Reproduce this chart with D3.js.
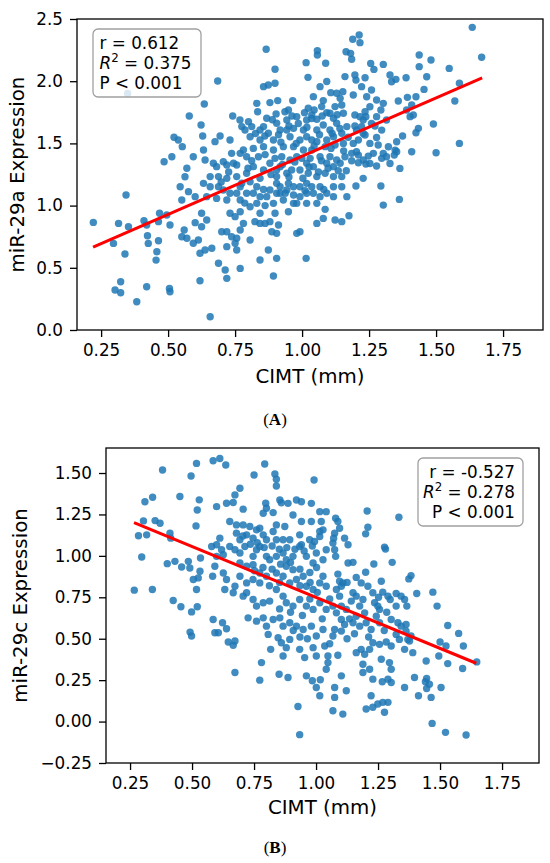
<!DOCTYPE html>
<html>
<head>
<meta charset="utf-8">
<script src="https://cdn.jsdelivr.net/npm/d3@7"></script>
<style>
  body { margin: 0; background: #fff; }
  svg text { font-family: "DejaVu Sans", sans-serif; fill: #000; }
</style>
</head>
<body>
<svg id="chart" width="550" height="863"></svg>
<script>
// DATA ---------------------------------------------------------------

const xTicks = [0.25, 0.50, 0.75, 1.00, 1.25, 1.50, 1.75];
const yTicksA = [0.0, 0.5, 1.0, 1.5, 2.0, 2.5];
const yTicksB = [-0.25, 0.00, 0.25, 0.50, 0.75, 1.00, 1.25, 1.50];

// panel A: CIMT (mm) vs miR-29a expression
const pointsA = [
  [0.866,2.257],[1.057,2.246],[1.057,2.211],[1.015,2.149],[1.088,2.144],[0.899,2.096],[0.685,2.002],
  [0.856,1.956],[0.874,1.970],[0.899,1.983],[1.022,2.031],[1.092,1.997],[1.067,1.956],[1.107,1.908],
  [1.129,1.903],[1.152,1.916],[1.160,2.037],[0.635,1.817],[0.831,1.822],[0.880,1.828],[0.909,1.844],
  [0.965,1.844],[1.042,1.876],[1.079,1.844],[1.142,1.862],[0.579,1.720],[0.741,1.720],[0.768,1.688],
  [0.800,1.675],[0.834,1.755],[0.868,1.702],[0.903,1.737],[0.936,1.755],[0.949,1.769],[0.980,1.715],
  [1.009,1.747],[1.017,1.688],[1.045,1.769],[1.055,1.694],[1.092,1.747],[1.117,1.702],[1.154,1.742],
  [0.623,1.648],[0.629,1.559],[0.522,1.549],[0.538,1.527],[0.553,1.474],[0.694,1.559],[0.675,1.514],
  [0.731,1.527],[0.775,1.635],[0.787,1.608],[0.806,1.554],[0.843,1.608],[0.874,1.581],[0.843,1.527],
  [0.893,1.527],[0.918,1.608],[0.955,1.554],[0.930,1.474],[0.968,1.621],[1.005,1.608],[0.992,1.527],
  [1.036,1.527],[1.055,1.608],[1.079,1.648],[1.104,1.608],[1.129,1.662],[1.092,1.527],[1.117,1.554],
  [1.148,1.581],[1.167,1.635],[0.485,1.353],[0.514,1.393],[0.594,1.393],[0.632,1.447],[0.638,1.367],
  [0.570,1.300],[0.563,1.232],[0.545,1.152],[0.576,1.112],[0.551,1.045],
  [0.669,1.340],[0.681,1.313],[0.719,1.326],[0.744,1.340],[0.769,1.420],[0.793,1.393],[0.756,1.233],
  [0.793,1.260],[0.818,1.313],[0.837,1.393],[0.856,1.286],[0.880,1.340],[0.893,1.447],[0.905,1.233],
  [0.943,1.260],[0.918,1.313],[0.955,1.367],[0.980,1.393],[0.992,1.286],[1.017,1.340],[1.042,1.313],
  [1.067,1.393],[1.092,1.340],[1.117,1.313],[1.142,1.340],[1.160,1.393],
  [0.632,1.179],[0.657,1.152],[0.688,1.152],[0.706,1.125],[0.731,1.099],[0.644,1.072],[0.681,1.058],
  [0.719,1.045],[0.769,1.152],[0.793,1.099],[0.831,1.152],[0.843,1.072],[0.880,1.125],[0.905,1.179],
  [0.918,1.099],[0.943,1.125],[0.968,1.152],[0.992,1.072],[1.017,1.179],[1.042,1.099],[1.067,1.152],
  [1.092,1.099],[1.117,1.152],[1.148,1.152],[1.167,1.072],[0.893,1.018],[0.930,1.045],[0.968,1.018],
  [0.625,0.938],[0.644,0.884],[0.731,0.938],[0.750,0.911],[0.769,0.951],[0.806,0.991],[0.831,1.018],
  [0.843,0.938],[0.899,0.938],[0.949,0.951],[0.980,1.018],[1.017,1.018],[1.055,1.018],[1.079,0.897],
  [1.123,0.884],[1.148,0.871],[1.055,0.857],
  [0.495,0.924],[0.507,0.844],[0.601,0.863],[0.625,0.830],[0.560,0.804],[0.570,0.737],[0.551,0.750],
  [0.594,0.697],[0.613,0.723],
  [0.700,0.790],[0.719,0.790],[0.737,0.750],[0.756,0.737],[0.769,0.804],[0.781,0.857],[0.806,0.723],
  [0.824,0.871],[0.843,0.857],[0.862,0.857],[0.880,0.871],[0.887,0.790],[0.905,0.777],[0.912,0.844],
  [0.980,0.777],[0.992,0.790],
  [0.619,0.617],[0.638,0.643],[0.663,0.657],[0.719,0.670],[0.750,0.697],[0.756,0.643],[0.874,0.643],
  [0.843,0.563],[0.905,0.576],[1.015,0.576],[0.688,0.536],[0.713,0.482],[0.719,0.415],[0.769,0.495],
  [0.893,0.434],[0.619,0.396],[0.505,0.334],[0.507,0.308],[0.657,0.107],
  [0.812,1.635],[0.856,1.635],[0.905,1.662],[0.943,1.688],[1.023,1.782],[1.036,1.728],[1.073,1.796],
  [1.123,1.796],[1.148,1.809],[1.104,1.742],[0.943,1.608],[1.017,1.554],[1.055,1.514],[1.086,1.474],
  [1.123,1.487],[1.154,1.500],[1.036,1.447],[1.005,1.447],[0.968,1.474],[0.856,1.474],[0.818,1.460],
  [0.781,1.447],[0.737,1.420],[0.706,1.353],[0.756,1.326],[0.899,1.380],[0.924,1.393],[0.999,1.380],
  [1.030,1.380],[1.104,1.393],[1.129,1.367],[0.905,1.286],[0.961,1.286],[1.023,1.260],[1.055,1.233],
  [1.086,1.260],[1.117,1.233],[1.148,1.233],[0.843,1.219],[0.806,1.192],[0.719,1.219],[0.688,1.233],
  [0.657,1.233],[0.918,1.152],[0.949,1.179],[0.992,1.152],[1.036,1.152],[0.905,1.099],[0.968,1.085],
  [1.067,1.072],[1.117,1.072],[0.868,1.072],[0.818,1.099],[0.756,1.099],[0.601,1.072],[0.769,1.045],
  [1.017,1.099],
  [0.221,0.865],[0.315,0.857],[0.352,0.830],[0.296,0.696],[0.339,0.611],[0.410,0.879],[0.420,0.844],
  [0.423,0.758],[0.426,0.696],[0.464,0.718],[0.458,0.629],[0.455,0.562],[0.468,0.938],[0.464,0.871],
  [0.323,0.388],[0.302,0.321],[0.323,0.300],[0.383,0.227],[0.420,0.348],[0.349,1.902],[0.343,1.085],
  [1.635,2.433],[1.670,2.192],[1.189,2.337],[1.213,2.371],[1.216,2.310],[1.181,2.224],[1.185,2.176],
  [1.164,2.237],[1.256,2.143],[1.268,2.095],[1.303,2.135],[1.437,2.211],[1.481,2.170],[1.437,2.117],
  [1.549,2.103],[1.465,2.036],[1.197,2.050],[1.201,2.009],[1.235,2.028],[1.328,2.050],[1.334,1.996],
  [1.350,2.015],[1.388,2.028],[1.259,1.929],[1.587,1.983],[1.455,1.934],[1.359,1.841],[1.393,1.870],
  [1.425,1.875],[1.570,1.841],[1.191,1.889],[1.294,1.768],[1.390,1.768],[1.409,1.809],[1.403,1.715],
  [1.415,1.728],[1.197,1.728],[1.216,1.715],[1.235,1.755],[1.238,1.715],[1.228,1.688],[1.490,1.656],
  [1.434,1.621],[1.425,1.586],[1.297,1.607],[1.272,1.640],[1.197,1.640],[1.203,1.607],[1.228,1.580],
  [1.235,1.567],[1.278,1.548],[1.375,1.559],[1.353,1.513],[1.587,1.500],[1.347,1.446],[1.353,1.433],
  [1.344,1.406],[1.409,1.433],[1.500,1.425],[1.303,1.420],[1.315,1.393],[1.297,1.380],[1.278,1.318],
  [1.365,1.299],[1.185,1.420],[1.210,1.406],[1.210,1.344],[1.238,1.334],[1.247,1.398],[1.228,1.219],
  [1.201,1.157],[1.294,1.157],[1.363,1.050],[1.303,1.004],[1.191,1.500],[1.203,1.433],[1.253,1.339],
  [1.175,0.919],[1.086,0.970],
  [1.222,1.956],[1.241,1.875],[1.278,1.849],[1.303,1.822],[1.253,1.795],[1.278,1.715],[1.315,1.688],
  [1.259,1.661],[1.222,1.634],[1.253,1.500],[1.284,1.487],[1.322,1.473],[1.210,1.527],[1.228,1.366],
  [1.266,1.420],[1.328,1.339],
  [0.812,1.360],[0.862,1.410],[0.884,1.250],[0.927,1.330],[0.951,1.230],[0.973,1.350],[1.003,1.220],
  [1.026,1.310],[1.061,1.270],[1.072,1.360],[1.097,1.300],[1.135,1.280],[0.826,1.580],[0.861,1.560],
  [0.912,1.570],[0.951,1.640],[0.986,1.660],[1.018,1.630],[1.065,1.570],[1.112,1.580],[1.141,1.620],
  [0.889,1.690],[0.962,1.720],[1.036,1.700],[1.075,1.720],[1.131,1.730],[0.921,1.510],[0.978,1.500],
  [1.045,1.480],[1.108,1.460],[0.798,1.300],[0.775,1.180],[0.856,1.130],[0.937,1.100],[1.011,1.120],
  [1.081,1.130],[0.726,1.270],[0.698,1.190],[0.862,1.000],[0.786,1.020],[1.155,1.440],[1.172,1.550],
  [1.165,1.280],[1.185,1.360]
];
const fitA = [[0.220, 0.667], [1.672, 2.026]];
const statsA = ["r = 0.612", "0.375", "P < 0.001"];

// panel B: CIMT (mm) vs miR-29c expression
const pointsB = [
  [0.381,1.518],[0.496,1.482],[0.518,1.558],[0.585,1.574],[0.612,1.588],[0.636,1.548],[0.793,1.554],
  [0.750,1.488],[0.834,1.494],[0.840,1.462],[0.840,1.422],[0.992,1.458],[0.310,1.327],[0.341,1.354],
  [0.451,1.358],[0.529,1.338],[0.521,1.277],[0.599,1.297],[0.639,1.318],[0.666,1.322],[0.706,1.282],
  [0.673,1.368],[0.693,1.408],[0.797,1.318],[0.800,1.287],[0.787,1.257],[0.827,1.261],[0.854,1.337],
  [0.860,1.321],[0.887,1.317],[0.921,1.337],[0.941,1.327],[0.981,1.317],[1.015,1.267],[0.304,1.211],
  [0.351,1.213],[0.371,1.197],[0.284,1.121],[0.317,1.127],[0.411,1.137],[0.414,1.107],[0.516,1.181],
  [0.297,0.993],[0.267,0.793],[0.340,0.797],[0.400,0.953],[0.431,0.967],[0.458,0.933],[0.491,0.927],
  [0.485,0.967],[0.505,0.857],[0.525,0.867],[0.532,0.907],[0.518,0.797],[0.424,0.731],[0.455,0.693],
  [0.498,0.662],[0.521,0.693],[0.492,0.540],[0.498,0.516],[0.585,0.616],[0.592,0.536],[0.606,0.536],
  [0.623,0.596],[0.639,0.560],[0.646,0.480],[0.673,0.486],[0.666,0.460],[0.583,0.877],[0.592,0.937],
  [0.599,0.997],[0.534,0.987],[0.579,1.057],[0.599,1.067],[0.619,1.037],[0.626,1.007],[0.612,1.107],
  [0.652,1.207],[0.679,1.187],[0.706,1.187],[0.733,1.177],[0.760,1.157],[0.773,1.167],[0.679,1.137],
  [0.693,1.097],[0.720,1.127],[0.746,1.107],[0.787,1.127],[0.800,1.097],[0.827,1.147],[0.840,1.097],
  [0.867,1.097],[0.894,1.097],[0.934,1.127],[0.941,1.067],[0.974,1.097],[0.994,1.087],[1.015,1.147],
  [1.028,1.157],[1.015,1.117],[1.041,1.037],[1.028,0.977],[0.652,1.057],[0.673,1.037],[0.693,1.017],
  [0.713,1.057],[0.746,0.997],[0.760,1.037],[0.773,1.057],[0.800,0.997],[0.813,0.977],[0.840,0.997],
  [0.867,1.017],[0.880,0.977],[0.907,0.997],[0.934,1.057],[0.961,0.997],[0.988,0.957],[1.001,1.017],
  [0.693,0.957],[0.720,0.937],[0.746,0.947],[0.773,0.897],[0.800,0.877],[0.693,0.877],[0.720,0.837],
  [0.746,0.857],[0.773,0.837],[0.626,0.897],[0.639,0.857],[0.632,0.797],[0.666,0.777],[0.673,0.817],
  [0.706,0.757],[0.720,0.777],[0.746,0.737],[0.760,0.697],[0.787,0.717],[0.813,0.727],[0.840,0.897],
  [0.867,0.877],[0.880,0.937],[0.907,0.917],[0.894,0.837],[0.921,0.857],[0.948,0.877],[0.961,0.817],
  [0.988,0.797],[1.015,0.837],[1.028,0.877],[1.041,0.817],[0.840,0.797],[0.867,0.757],[0.880,0.717],
  [0.907,0.697],[0.934,0.737],[0.961,0.697],[0.988,0.677],[1.015,0.717],[1.041,0.677],[0.726,0.626],
  [0.760,0.606],[0.787,0.626],[0.800,0.576],[0.807,0.526],[0.827,0.616],[0.854,0.626],[0.867,0.576],
  [0.894,0.596],[0.921,0.576],[0.948,0.556],[0.981,0.576],[1.001,0.516],[1.028,0.556],[0.847,0.506],
  [0.860,0.476],[0.894,0.496],[0.880,0.446],[0.934,0.436],[0.954,0.386],[0.988,0.446],[1.001,0.396],
  [1.035,0.456],[1.048,0.396],[0.817,0.436],[0.780,0.356],[0.867,0.396],[0.673,0.296],[0.773,0.250],
  [0.851,0.286],[0.887,0.266],[0.961,0.276],[0.985,0.246],[1.001,0.206],[1.015,0.156],[1.017,0.252],
  [1.041,0.316],[1.048,0.356],[0.927,0.091],[0.934,-0.079],[0.981,1.207],[1.021,1.207],[1.041,1.267],
  [0.907,1.247],[0.941,1.207],[0.874,1.177],[0.840,1.187],
  [1.206,1.271],[1.334,1.233],[1.209,1.173],[1.200,1.133],[1.079,1.227],[1.088,1.207],[1.075,1.137],
  [1.071,1.107],[1.068,1.077],[1.075,1.037],[1.079,0.997],[1.115,1.107],[1.129,1.067],[1.276,1.053],
  [1.280,1.041],[1.307,0.961],[1.129,0.957],[1.149,0.961],[1.233,0.951],[1.200,0.901],[1.383,0.881],
  [1.374,0.861],[1.263,0.847],[1.182,0.837],[1.209,0.817],[1.095,0.847],[1.108,0.837],[1.102,0.817],
  [1.082,0.797],[1.406,0.773],[1.471,0.781],[1.488,0.697],[1.269,0.781],[1.290,0.757],[1.323,0.773],
  [1.343,0.757],[1.357,0.737],[1.366,0.697],[1.323,0.697],[1.299,0.737],[1.229,0.777],[1.236,0.717],
  [1.249,0.697],[1.256,0.677],[1.149,0.777],[1.162,0.757],[1.142,0.727],[1.189,0.737],[1.176,0.697],
  [1.196,0.656],[1.095,0.757],[1.102,0.697],[1.122,0.677],[1.068,0.697],[1.082,0.656],[1.162,0.636],
  [1.149,0.596],[1.176,0.576],[1.202,0.596],[1.222,0.556],[1.243,0.636],[1.256,0.596],[1.102,0.616],
  [1.115,0.586],[1.075,0.556],[1.102,0.546],[1.068,0.516],[1.303,0.616],[1.330,0.596],[1.343,0.576],
  [1.363,0.586],[1.363,0.546],[1.370,0.496],[1.377,0.486],[1.383,0.516],[1.323,0.526],[1.336,0.496],
  [1.531,0.580],[1.575,0.532],[1.500,0.480],[1.524,0.456],[1.594,0.456],[1.648,0.360],[1.531,0.350],
  [1.591,0.320],[1.495,0.396],[1.444,0.366],[1.397,0.266],[1.446,0.260],[1.441,0.240],[1.446,0.200],
  [1.457,0.226],[1.504,0.206],[1.413,0.156],[1.464,0.146],[1.468,-0.011],[1.522,-0.065],[1.605,-0.081],
  [1.283,0.480],[1.303,0.456],[1.256,0.466],[1.229,0.476],[1.216,0.436],[1.182,0.436],[1.196,0.406],
  [1.162,0.416],[1.263,0.376],[1.296,0.356],[1.303,0.316],[1.290,0.256],[1.303,0.236],[1.267,0.240],
  [1.229,0.256],[1.189,0.346],[1.189,0.296],[1.216,0.316],[1.102,0.276],[1.075,0.206],[1.075,0.146],
  [1.122,0.186],[1.222,0.156],[1.202,0.076],[1.229,0.086],[1.249,0.106],[1.269,0.116],[1.290,0.116],
  [1.276,0.056],[1.068,0.065],[1.108,0.045],[1.357,0.206],[1.357,0.436],[1.390,0.416],[1.095,1.167],
  [0.705,1.120],[0.735,1.070],[0.763,1.080],[0.791,1.050],[0.823,1.060],[0.852,1.040],[0.882,1.050],
  [0.915,1.040],[0.952,1.030],[0.985,1.060],[0.752,0.910],[0.786,0.930],[0.823,0.920],[0.857,0.950],
  [0.897,0.960],[0.935,0.920],[0.975,0.900],[1.002,0.930],[0.812,0.820],[0.853,0.840],[0.935,0.820],
  [0.976,0.840],[1.005,0.780],[0.853,0.680],[0.897,0.660],[0.945,0.640],[0.975,0.740],[1.025,0.620],
  [1.055,0.740],[1.088,0.890],[1.125,0.840],[1.162,0.870],[1.135,0.620],[1.055,0.470],[1.125,0.500],
  [1.155,0.530],[1.212,0.510],[1.275,0.550],[1.252,0.750],[1.285,0.660],[0.935,0.510],[0.908,0.550],
  [0.965,0.500],[1.088,0.400]
];
const fitB = [[0.266, 1.200], [1.646, 0.352]];
const statsB = ["r = -0.527", "0.278", "P < 0.001"];

// CHART INIT ---------------------------------------------------------

const svg = d3.select('#chart');
const tickFont = 16.8;   // tick labels and stats box
const titleFont = 19.8;  // axis titles

const panels = [
  {
    points: pointsA, fit: fitA, stats: statsA, yTicks: yTicksA, yFormat: d3.format('.1f'),
    ylabel: 'miR-29a Expression', tag: 'A',
    frame: {left: 77, right: 543, top: 19, bottom: 330},
    xDomain: [0.160, 1.899], yDomain: [0.0, 2.5],
    ylabelX: 23.5, xlabelY: 382.5, tagY: 425,
    legend: {x: 93, y: 29, w: 108, h: 68, textX: 99.5, anchor: 'start', baseY: 48.5}
  },
  {
    points: pointsB, fit: fitB, stats: statsB, yTicks: yTicksB, yFormat: d3.format('.2f'),
    ylabel: 'miR-29c Expression', tag: 'B',
    frame: {left: 106, right: 539, top: 448, bottom: 763},
    xDomain: [0.153, 1.899], yDomain: [-0.25, 1.651],
    ylabelX: 26.5, xlabelY: 813.5, tagY: 853,
    legend: {x: 418, y: 458, w: 105, h: 68, textX: 515, anchor: 'end', baseY: 477.5}
  }
];

function drawPanel(p) {
  const f = p.frame;
  const xScale = d3.scaleLinear().domain(p.xDomain).range([f.left, f.right]);
  const yScale = d3.scaleLinear().domain(p.yDomain).range([f.bottom, f.top]);

  const g = svg.append('g');

  // clip dots to axes
  const clipId = 'clip-' + p.tag;
  g.append('clipPath').attr('id', clipId)
    .append('rect')
    .attr('x', f.left).attr('y', f.top)
    .attr('width', f.right - f.left).attr('height', f.bottom - f.top);

  // scatter
  g.append('g')
    .attr('clip-path', 'url(#' + clipId + ')')
    .selectAll('circle')
    .data(p.points)
    .enter()
    .append('circle')
    .attr('cx', d => xScale(d[0]))
    .attr('cy', d => yScale(d[1]))
    .attr('r', 3.7)
    .attr('fill', '#1f77b4')
    .attr('fill-opacity', 0.85);

  // regression line
  g.append('path')
    .datum(p.fit)
    .attr('d', d3.line().x(d => xScale(d[0])).y(d => yScale(d[1])))
    .attr('fill', 'none')
    .attr('stroke', 'red')
    .attr('stroke-width', 3);

  // axes
  const xAxis = d3.axisBottom(xScale).tickValues(xTicks).tickFormat(d3.format('.2f'))
    .tickSize(7).tickPadding(7);
  const yAxis = d3.axisLeft(yScale).tickValues(p.yTicks).tickFormat(p.yFormat)
    .tickSize(7).tickPadding(7);

  const gx = g.append('g')
    .attr('transform', 'translate(0,' + f.bottom + ')')
    .call(xAxis);
  const gy = g.append('g')
    .attr('transform', 'translate(' + f.left + ',0)')
    .call(yAxis);

  [gx, gy].forEach(a => {
    a.select('.domain').remove();
    a.attr('font-family', null).attr('font-size', null);
    a.selectAll('text').attr('font-size', tickFont).attr('fill', '#000');
    a.selectAll('line').attr('stroke', '#000').attr('stroke-width', 1.3);
  });

  // frame
  g.append('rect')
    .attr('x', f.left).attr('y', f.top)
    .attr('width', f.right - f.left).attr('height', f.bottom - f.top)
    .attr('fill', 'none')
    .attr('stroke', '#000')
    .attr('stroke-width', 1.3);

  // axis titles
  g.append('text')
    .attr('transform', 'translate(' + p.ylabelX + ',' + (f.top + f.bottom) / 2 + ') rotate(-90)')
    .attr('text-anchor', 'middle')
    .attr('font-size', titleFont)
    .text(p.ylabel);

  g.append('text')
    .attr('x', (f.left + f.right) / 2)
    .attr('y', p.xlabelY)
    .attr('text-anchor', 'middle')
    .attr('font-size', titleFont)
    .text('CIMT (mm)');

  // stats box
  const L = p.legend;
  g.append('rect')
    .attr('x', L.x).attr('y', L.y)
    .attr('width', L.w).attr('height', L.h)
    .attr('rx', 5)
    .attr('fill', '#fff')
    .attr('fill-opacity', 0.8)
    .attr('stroke', '#a0a0a0')
    .attr('stroke-width', 1.3);

  const lineGap = 20;
  g.append('text')
    .attr('x', L.textX).attr('y', L.baseY)
    .attr('text-anchor', L.anchor)
    .attr('font-size', tickFont)
    .text(p.stats[0]);

  const r2 = g.append('text')
    .attr('x', L.textX).attr('y', L.baseY + lineGap)
    .attr('text-anchor', L.anchor)
    .attr('font-size', tickFont);
  r2.append('tspan').attr('font-style', 'italic').text('R');
  r2.append('tspan').attr('dy', -6.5).attr('font-size', 11.8).text('2');
  r2.append('tspan').attr('dy', 6.5).text(' = ' + p.stats[1]);

  g.append('text')
    .attr('x', L.textX).attr('y', L.baseY + 2 * lineGap)
    .attr('text-anchor', L.anchor)
    .attr('font-size', tickFont)
    .text(p.stats[2]);

  // panel tag
  const tag = svg.append('text')
    .attr('x', 275)
    .attr('y', p.tagY)
    .attr('text-anchor', 'middle')
    .attr('font-size', 17)
    .style('font-family', '"Liberation Serif", "Times New Roman", serif');
  tag.append('tspan').text('(');
  tag.append('tspan').attr('font-weight', 'bold').text(p.tag);
  tag.append('tspan').text(')');
}

panels.forEach(drawPanel);
</script>
</body>
</html>
